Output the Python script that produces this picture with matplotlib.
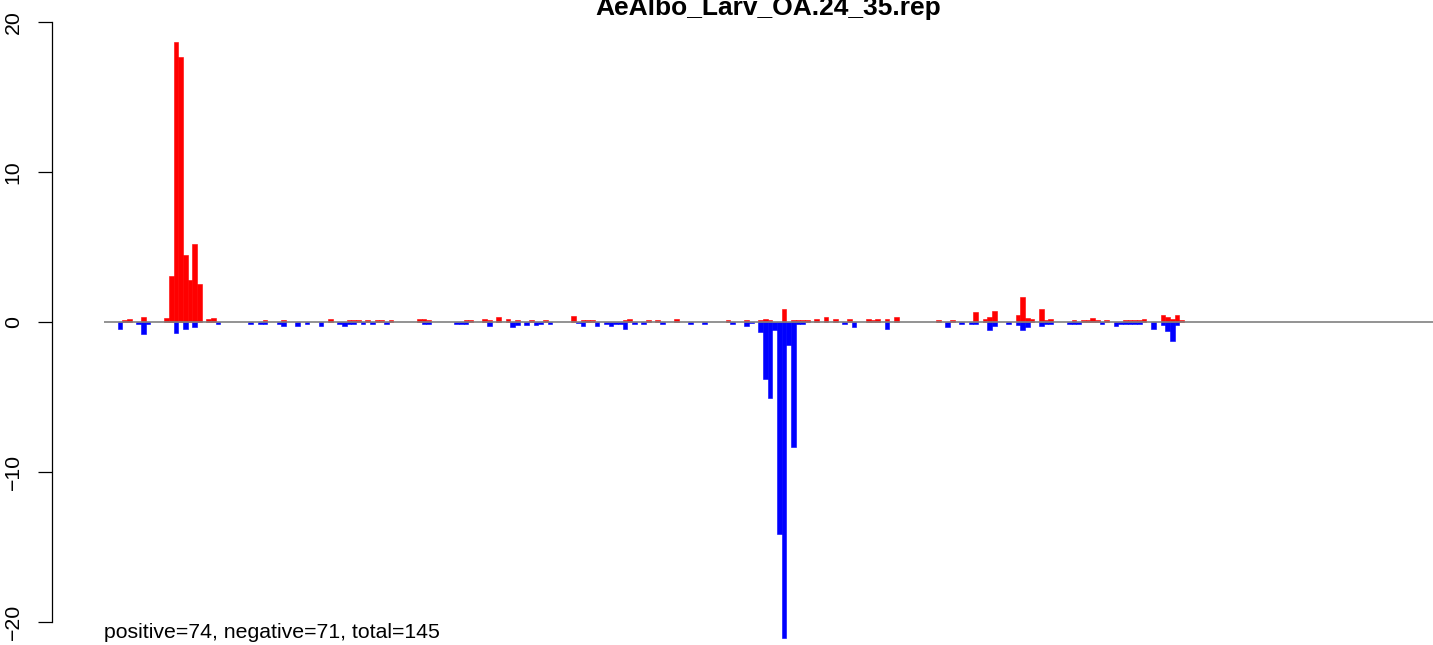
import matplotlib
matplotlib.use("Agg")
import matplotlib.pyplot as plt

plt.rcParams['font.family'] = ['Liberation Sans', 'DejaVu Sans']

title = "AeAlbo_Larv_OA.24_35.rep"
note = "positive=74, negative=71, total=145"

# positive (red) bins and heights
pos_bins = [4, 5, 8, 13, 14, 15, 16, 17, 18, 19, 20, 22, 23, 34, 38, 48,
            52, 53, 54, 56, 58, 59, 61, 67, 68, 69, 77, 78, 81, 82, 84, 86,
            88, 91, 94, 100, 102, 103, 104, 111, 112, 116, 118, 122, 133,
            137, 140, 141, 142, 145, 147, 148, 149, 150, 152, 154, 156, 159,
            163, 164, 165, 167, 169, 178, 181, 186, 188, 189, 190, 195, 196,
            197, 198, 200, 201, 202, 207, 209, 210, 211, 212, 214, 218, 219,
            220, 221, 222, 226, 227, 228, 229, 230]
pos_vals = [0.13, 0.2, 0.33, 0.3, 3.07, 18.67, 17.7, 4.47, 2.8, 5.2, 2.53,
            0.2, 0.25, 0.13, 0.13, 0.2, 0.13, 0.13, 0.13, 0.13, 0.13, 0.13,
            0.13, 0.2, 0.2, 0.13, 0.13, 0.13, 0.2, 0.13, 0.35, 0.2, 0.13,
            0.13, 0.13, 0.4, 0.13, 0.13, 0.13, 0.13, 0.2, 0.13, 0.13, 0.2,
            0.13, 0.13, 0.13, 0.2, 0.13, 0.87, 0.13, 0.13, 0.13, 0.13, 0.2,
            0.33, 0.2, 0.2, 0.2, 0.13, 0.2, 0.2, 0.33, 0.13, 0.13, 0.66,
            0.2, 0.33, 0.73, 0.45, 1.65, 0.3, 0.2, 0.85, 0.13, 0.2, 0.13,
            0.13, 0.13, 0.3, 0.13, 0.13, 0.13, 0.13, 0.13, 0.13, 0.2, 0.5,
            0.35, 0.2, 0.5, 0.13]

# negative (blue) bins and heights
neg_bins = [3, 7, 8, 9, 15, 17, 19, 24, 31, 33, 34, 37, 38, 41, 43, 46, 50,
            51, 52, 53, 55, 57, 60, 68, 69, 75, 76, 77, 82, 87, 88, 90, 92,
            93, 95, 101, 102, 105, 107, 108, 109, 110, 111, 113, 115, 119,
            125, 128, 134, 137, 138, 140, 141, 142, 143, 144, 145, 146, 147,
            148, 149, 158, 160, 167, 180, 183, 185, 186, 189, 190, 193, 195,
            196, 197, 200, 201, 202, 206, 207, 208, 213, 216, 217, 218, 219,
            220, 221, 224, 226, 227, 228, 229]
neg_vals = [-0.45, -0.1, -0.78, -0.1, -0.75, -0.45, -0.33, -0.1, -0.1, -0.1,
            -0.1, -0.1, -0.25, -0.25, -0.1, -0.25, -0.1, -0.25, -0.1, -0.1,
            -0.1, -0.1, -0.15, -0.1, -0.1, -0.1, -0.1, -0.1, -0.28, -0.3,
            -0.2, -0.2, -0.22, -0.1, -0.1, -0.05, -0.25, -0.25, -0.1, -0.25,
            -0.1, -0.1, -0.45, -0.1, -0.1, -0.1, -0.1, -0.1, -0.1, -0.25,
            -0.08, -0.64, -3.78, -5.04, -0.55, -14.1, -21.07, -1.5, -8.3,
            -0.1, -0.1, -0.1, -0.3, -0.44, -0.3, -0.1, -0.1, -0.1, -0.5,
            -0.25, -0.1, -0.2, -0.5, -0.3, -0.25, -0.1, -0.1, -0.1, -0.1,
            -0.1, -0.1, -0.25, -0.1, -0.1, -0.1, -0.1, -0.1, -0.44, -0.2,
            -0.6, -1.27, -0.2]

W, H = 1433, 645
fig = plt.figure(figsize=(W / 100, H / 100), dpi=100)
ax = fig.add_axes([52 / W, 0, 1 - 52 / W, 1])

xl = (-51.5 / 4.677, (W - 103.5) / 4.677)
ax.set_xlim(xl)
ax.set_ylim(-(H - 322) / 15, 322 / 15)

ax.bar(pos_bins, pos_vals, width=1, align='edge', color='#ff0000',
       edgecolor='#ff0000', linewidth=0.4)
ax.bar(neg_bins, neg_vals, width=1, align='edge', color='#0000ff',
       edgecolor='#0000ff', linewidth=0.4)
ax.hlines(0, 0, xl[1], color='#808080', lw=1.2, zorder=5)

for s in ['top', 'right', 'bottom']:
    ax.spines[s].set_visible(False)
ax.spines['left'].set_bounds(-20, 20)
ax.spines['left'].set_linewidth(0.9)
ax.set_xticks([])
ax.set_yticks([-20, -10, 0, 10, 20])
ax.set_yticklabels(['\u221220', '\u221210', '0', '10', '20'],
                   rotation=90, va='center', fontsize=15.3)
ax.tick_params(axis='y', length=10, width=0.9, pad=11)

ax.text(0, -20.73, note, ha='left', va='center', fontsize=15.3)
fig.text(768.5 / W, 1 - 15.5 / H, title, ha='center', va='baseline',
         fontsize=19, fontweight='bold')

fig.savefig("out.png", dpi=100)
